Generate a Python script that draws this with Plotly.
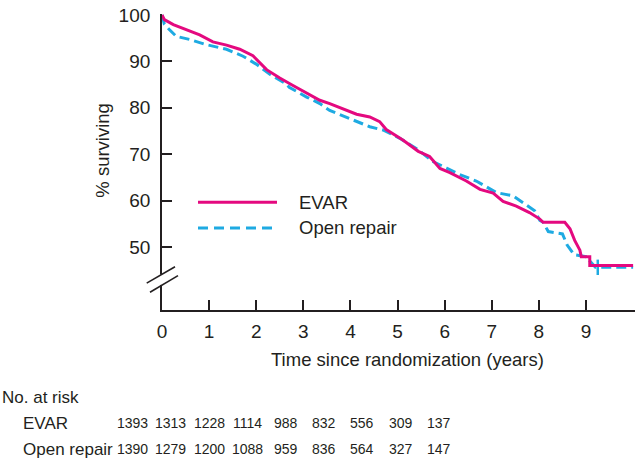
import plotly.graph_objects as go

# ---- data ----
evar_t = [0, 0.05, 0.24, 0.52, 0.8, 1.08, 1.37, 1.65, 1.93, 2.22, 2.5, 2.78, 3.07, 3.35, 3.56, 3.84,
          4.13, 4.41, 4.62, 4.76, 5.12, 5.44, 5.68, 5.9, 6.11, 6.46, 6.75, 7.03, 7.24, 7.52, 7.8,
          8.02, 8.09, 8.55, 8.66, 8.76, 8.87, 8.9, 9.08, 9.08, 10.0]
evar_s = [100, 99.0, 97.9, 96.8, 95.7, 94.2, 93.5, 92.6, 91.2, 88.2, 86.4, 84.8, 83.2, 81.6, 80.9, 79.8,
          78.6, 78.0, 77.0, 75.3, 73.0, 70.6, 69.5, 66.9, 66.0, 64.2, 62.4, 61.6, 59.8, 58.8, 57.4,
          56.0, 55.3, 55.3, 53.9, 51.4, 49.3, 47.9, 47.9, 46.0, 46.0]

open_t = [0, 0.05, 0.16, 0.3, 0.59, 0.94, 1.37, 1.72, 2.0, 2.29, 2.64, 2.7, 3.07, 3.35, 3.56, 3.98,
          4.41, 4.69, 5.05, 5.44, 5.75, 6.04, 6.32, 6.67, 7.1, 7.45, 7.7, 7.91, 8.02, 8.09, 8.2,
          8.5, 8.6, 8.75, 9.0, 9.2, 10.0]
open_s = [100, 98.0, 96.8, 95.4, 94.7, 93.6, 92.6, 91.1, 89.4, 87.2, 85.1, 84.4, 82.3, 80.9, 79.4, 77.7,
          75.9, 75.2, 73.4, 70.9, 68.4, 67.0, 65.6, 64.2, 61.7, 61.0, 59.2, 57.8, 55.7, 55.3, 53.3,
          52.8, 50.4, 48.3, 47.9, 45.6, 45.6]
open_censor_t = [9.25]
open_censor_s = [45.6]

x_ticks = [0, 1, 2, 3, 4, 5, 6, 7, 8, 9]
y_ticks = [50, 60, 70, 80, 90, 100]

risk_groups = ["EVAR", "Open repair"]
risk_evar = [1393, 1313, 1228, 1114, 988, 832, 556, 309, 137]
risk_open = [1390, 1279, 1200, 1088, 959, 836, 564, 327, 147]

EVAR_COLOR = "#E4097F"
OPEN_COLOR = "#1EAAE2"
TXT = "#231F20"
FONT = "Liberation Sans, Arial, sans-serif"

# ---- layout geometry (pixels) ----
W, H = 640, 462
L, R, T, B = 162, 5, 9, 152
PW, PH = W - L - R, H - T - B


def px(xp):
    return (xp - L) / PW


def py(yp):
    return (H - B - yp) / PH


fig = go.Figure()
fig.add_trace(go.Scatter(x=open_t, y=open_s, mode="lines", name="Open repair",
                         line=dict(color=OPEN_COLOR, width=3, dash="10px,5px"),
                         showlegend=False, hoverinfo="skip"))
fig.add_trace(go.Scatter(x=open_censor_t, y=open_censor_s, mode="markers", name="censor",
                         marker=dict(symbol="line-ns", size=11,
                                     line=dict(color=OPEN_COLOR, width=2.5)),
                         showlegend=False, hoverinfo="skip"))
fig.add_trace(go.Scatter(x=evar_t, y=evar_s, mode="lines", name="EVAR",
                         line=dict(color=EVAR_COLOR, width=3),
                         showlegend=False, hoverinfo="skip"))

shapes = []
# axis break: white gap + two diagonal strokes
shapes.append(dict(type="line", xref="paper", yref="paper",
                   x0=0, x1=0, y0=py(284.5), y1=py(274), line=dict(color="white", width=5)))
shapes.append(dict(type="line", xref="paper", yref="paper",
                   x0=px(146.7), y0=py(282.7), x1=px(175), y1=py(266), line=dict(color=TXT, width=1.6)))
shapes.append(dict(type="line", xref="paper", yref="paper",
                   x0=px(150), y0=py(292), x1=px(178), y1=py(275), line=dict(color=TXT, width=1.6)))
# manual legend
shapes.append(dict(type="line", xref="paper", yref="paper",
                   x0=px(198), x1=px(277), y0=py(200.5), y1=py(200.5),
                   line=dict(color=EVAR_COLOR, width=3)))
shapes.append(dict(type="line", xref="paper", yref="paper",
                   x0=px(198), x1=px(277), y0=py(226.5), y1=py(226.5),
                   line=dict(color=OPEN_COLOR, width=3, dash="10px,6px")))

ann = []
ann.append(dict(text="EVAR", x=px(297), y=py(200.5), xanchor="left", yanchor="middle"))
ann.append(dict(text="Open repair", x=px(297), y=py(226.5), xanchor="left", yanchor="middle"))
ann.append(dict(text="% surviving", x=px(103), y=py(148), textangle=-90,
                xanchor="center", yanchor="middle"))
ann.append(dict(text="Time since randomization (years)", x=px(407), y=py(360),
                xanchor="center", yanchor="middle"))
ann.append(dict(text="No. at risk", x=px(0), y=py(399), xanchor="left", yanchor="middle",
                font=dict(size=17, color=TXT, family=FONT)))
row_y = [425, 451.5]
for name, yy in zip(risk_groups, row_y):
    ann.append(dict(text=name, x=px(21), y=py(yy), xanchor="left", yanchor="middle",
                    font=dict(size=17, color=TXT, family=FONT)))
for i, (a, b) in enumerate(zip(risk_evar, risk_open)):
    cx = 132.5 + 38.3 * i
    ann.append(dict(text=str(a), x=px(cx), y=py(row_y[0]), xanchor="center", yanchor="middle",
                    font=dict(size=14, color=TXT, family=FONT)))
    ann.append(dict(text=str(b), x=px(cx), y=py(row_y[1]), xanchor="center", yanchor="middle",
                    font=dict(size=14, color=TXT, family=FONT)))
for a in ann:
    a.update(xref="paper", yref="paper", showarrow=False)
    a.setdefault("font", dict(size=18.5, color=TXT, family=FONT))

axis_common = dict(showline=True, linecolor=TXT, linewidth=1.8, ticks="inside", ticklen=10,
                   tickwidth=1.6, tickcolor=TXT, showgrid=False, zeroline=False,
                   tickfont=dict(size=19, color=TXT, family=FONT), mirror=False,
                   ticklabeloverflow="allow")

fig.update_layout(
    width=W, height=H, margin=dict(l=L, r=R, t=T, b=B),
    paper_bgcolor="white", plot_bgcolor="white",
    xaxis=dict(range=[0, 10.04], tickvals=x_ticks, ticklabelstandoff=3, **axis_common),
    yaxis=dict(range=[36.4, 100.2], tickvals=y_ticks, ticklabelstandoff=6, **axis_common),
    shapes=shapes, annotations=ann, showlegend=False,
)

fig.write_html("out.html", config={"displayModeBar": False},
               post_script="document.body.style.margin='0';document.body.style.overflow='hidden';")
